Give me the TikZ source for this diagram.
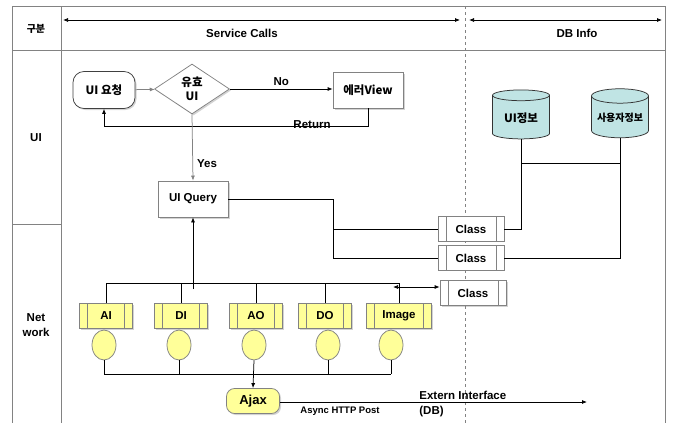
\documentclass[tikz,border=0pt]{standalone}
\usepackage{fontspec}
\setsansfont{Liberation Sans}
\newfontfamily\kr{Noto Sans CJK KR}
\usepackage{tikz}
\usetikzlibrary{shapes.geometric,arrows.meta,shadows}

\definecolor{framegray}{RGB}{130,130,130}
\definecolor{boxyellow}{RGB}{255,255,153}
\definecolor{dbcyan}{RGB}{192,228,228}

\tikzset{
  lbl/.style={font=\sffamily\bfseries\fontsize{11.5}{15}\selectfont, inner sep=1pt},
  small/.style={font=\sffamily\bfseries\fontsize{9.5}{11}\selectfont, inner sep=1pt},
  krfont/.style={font=\kr\bfseries\fontsize{11.5}{14}\selectfont},
  frame/.style={draw=framegray, line width=1pt},
  shade/.style={drop shadow={opacity=0.35, shadow xshift=1.5pt, shadow yshift=-1.5pt}},
  procbox/.style={lbl, rectangle, draw=framegray, fill=white, minimum width=70pt, minimum height=36pt, shade},
  startbox/.style={procbox, draw=black!75, rounded corners=11pt, minimum width=62pt, minimum height=37pt},
  decision/.style={lbl, diamond, draw=framegray, fill=white, aspect=1.5, inner sep=0pt,
    minimum width=75pt, minimum height=50pt, align=center, shade},
  sidebars/.style={path picture={
      \draw[framegray] ([xshift=8pt]path picture bounding box.north west) -- ([xshift=8pt]path picture bounding box.south west)
        ([xshift=-8pt]path picture bounding box.north east) -- ([xshift=-8pt]path picture bounding box.south east);}},
  classbox/.style={lbl, rectangle, draw=framegray, fill=white, minimum width=66pt, minimum height=25pt, sidebars},
  iobox/.style={lbl, rectangle, draw=framegray, fill=boxyellow, minimum width=53pt, minimum height=25pt, sidebars, shade},
  port/.style={ellipse, draw=framegray, fill=boxyellow, minimum width=24pt, minimum height=30pt, inner sep=0pt},
  ajaxbox/.style={rectangle, rounded corners=8pt, draw=framegray, fill=boxyellow, minimum width=53pt, minimum height=25pt,
    font=\sffamily\bfseries\fontsize{13}{15}\selectfont, shade},
  dbcyl/.style={cylinder, shape border rotate=90, aspect=0.3, draw=black!80, fill=dbcyan, minimum width=57pt, minimum height=49pt,
    inner sep=1pt, font=\kr\bfseries\fontsize{11.5}{13}\selectfont},
  >={Latex[length=5pt,width=4pt]}
}

\begin{document}
\begin{tikzpicture}[x=1pt,y=-1pt,line width=0.75pt]
\useasboundingbox (0,0) rectangle (675,423);

%%% table frame %%%
\draw[frame] (12,423) -- (12,6) -- (665,6) -- (665,423);
\draw[frame] (61,6) -- (61,423);
\draw[frame] (12,50) -- (665,50);
\draw[frame] (12,224) -- (61,224);
\draw[framegray, dashed, line width=0.8pt] (465,6) -- (465,423);

  \coordinate (svcL) at (63,20);
  \coordinate (svcR) at (460,20);
  \coordinate (dbL) at (469,20);
  \coordinate (dbR) at (662,20);
\draw[<->] (svcL) -- (svcR);
\draw[<->] (dbL) -- (dbR);

  \node (gubun) at (36,29) [lbl,font=\kr\bfseries\fontsize{10}{12}\selectfont] {구분};
  \node (svc) at (242,33) [lbl] {Service Calls};
  \node (dbinfo) at (577,33) [lbl] {DB Info};
  \node (rowui) at (36,138) [lbl] {UI};
  \node (rownet) at (36,325) [lbl,align=center] {Net\\work};

%%% UI row %%%
  \node (req) at (104,90) [startbox,krfont] {UI 요청};
  \node (valid) at (192,89) [decision,krfont] {유효\\UI};
  \node (err) at (368,90) [procbox,krfont] {에러View};
  \node (query) at (193,199) [procbox] {UI Query};

\draw[framegray,->] (req) to (valid);
\draw[->] (valid.east) to node[lbl,above=2pt] {No} (valid.east -| err.west);
\draw[->] (err.south) -- ++(0,18) -| (req.south);
  \node (ret) at (312,125) [lbl] {Return};
\draw[framegray,->] (valid.south) to node[lbl,pos=0.75,right=3pt,text=black] {Yes} (query.north);

%%% DB info %%%
  \node (uiinfo) at (521,118) [dbcyl] {UI정보};
  \node (userinfo) at (620,118) [dbcyl,font=\kr\bfseries\fontsize{10}{12}\selectfont] {사용자정보};

  \node (cls1) at (471,229) [classbox] {Class};
  \node (cls2) at (471,258) [classbox] {Class};
  \node (cls3) at (473,293) [classbox,shade] {Class};

  \coordinate (qbend) at (333,0);
  \coordinate (dbjoin) at (0,163);
\draw (query.east) -| (qbend |- cls2.west) -- (cls2.west);
\draw (qbend |- cls1.west) -- (cls1.west);
\draw (uiinfo.south) |- (cls1.east);
\draw (userinfo.south) |- (cls2.east);
\draw (uiinfo.south |- dbjoin) -- (userinfo.south |- dbjoin);

%%% network row %%%
  \node (ai) at (106,316) [iobox] {AI};
  \node (di) at (181,316) [iobox] {DI};
  \node (ao) at (256,316) [iobox] {AO};
  \node (dout) at (325,316) [iobox] {DO};
  \node (img) at (399,316) [iobox,minimum width=65pt] {Image};

  \node (aip) at (104,345) [port] {};
  \node (dip) at (179,345) [port] {};
  \node (aop) at (254,345) [port] {};
  \node (doutp) at (328,345) [port] {};
  \node (imgp) at (391,345) [port] {};

  \node (ajax) at (253,401) [ajaxbox] {Ajax};

  \coordinate (bus) at (0,283);
  \coordinate (bus2) at (0,374);
  \coordinate (arw) at (0,287);
  \coordinate (ext) at (587,402);

\draw (ai.north |- bus) -- (img.north |- bus);
\foreach \n in {ai,di,ao,dout,img}
  \draw (\n.north) -- (\n.north |- bus);
\draw[->] ([yshift=-6pt]query.south |- bus) -- (query.south);
\draw[<->] ([xshift=-6pt]img.north |- arw) -- (cls3.west |- arw);

\draw (aip.south |- bus2) -- (imgp.south |- bus2);
\foreach \n in {aip,dip,doutp,imgp}
  \draw (\n.south) -- (\n.south |- bus2);
\draw[->] (aop.south) -- (ajax.north);

\draw[->] (ajax.east |- ext) -- (ext);
  \node (async) at (340,411) [small] {Async HTTP Post};
  \node (extif) at (418,404) [lbl,anchor=west,align=left] {Extern Interface\\(DB)};

\end{tikzpicture}
\end{document}
